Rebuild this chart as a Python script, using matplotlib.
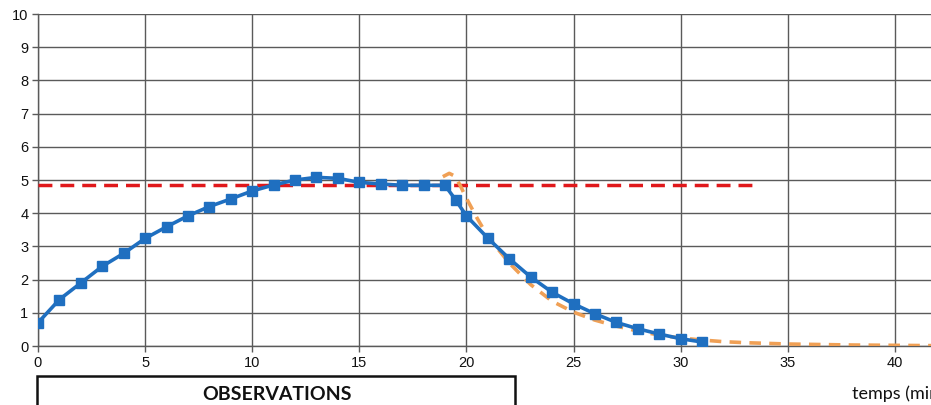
import matplotlib
matplotlib.use("Agg")
import matplotlib.pyplot as plt
from matplotlib.patches import Rectangle

# Measured concentration (blue), plateau level (red), model decay (orange)
t_obs = [0, 1, 2, 3, 4, 5, 6, 7, 8, 9, 10, 11, 12, 13, 14, 15, 16, 17, 18, 19,
         19.5, 20, 21, 22, 23, 24, 25, 26, 27, 28, 29, 30, 31]
c_obs = [0.70, 1.40, 1.90, 2.40, 2.79, 3.24, 3.59, 3.92, 4.20, 4.43, 4.67, 4.85,
         5.00, 5.08, 5.05, 4.93, 4.88, 4.84, 4.84, 4.84,
         4.40, 3.92, 3.25, 2.63, 2.08, 1.62, 1.27, 0.97, 0.71, 0.52, 0.36, 0.22, 0.12]

plateau_t = [0, 33.6]
plateau_c = [4.85, 4.85]

t_model = [18.9, 19.2, 19.45, 19.7, 20.0, 20.5, 21, 22, 23, 24, 25, 26, 27, 28,
           29, 30, 31, 32, 33, 35, 38, 42]
c_model = [5.10, 5.20, 5.12, 4.85, 4.45, 3.85, 3.30, 2.50, 1.85, 1.35, 1.02, 0.78,
           0.60, 0.45, 0.33, 0.24, 0.18, 0.13, 0.10, 0.06, 0.03, 0.01]

x_ticks = [0, 5, 10, 15, 20, 25, 30, 35, 40]
y_ticks = [0, 1, 2, 3, 4, 5, 6, 7, 8, 9, 10]

W, H = 931, 405
fig = plt.figure(figsize=(W / 100, H / 100), dpi=100)
fig.patch.set_facecolor("white")

x_left, x_unit = 38, 21.42
y_top, y_bottom = 14, 346
ax = fig.add_axes([x_left / W, (H - y_bottom) / H, 1 - x_left / W,
                   (y_bottom - y_top) / H])
ax.set_xlim(0, (W - x_left) / x_unit)
ax.set_ylim(0, 10)

grid_col = "#5a5a5a"
ax.set_xticks(x_ticks)
ax.set_yticks(y_ticks)
ax.grid(True, color=grid_col, linewidth=1.0)
ax.set_axisbelow(True)
for side in ["top", "right"]:
    ax.spines[side].set_visible(False)
for side in ["left", "bottom"]:
    ax.spines[side].set_color(grid_col)
    ax.spines[side].set_linewidth(1.0)
ax.tick_params(axis="both", colors=grid_col, length=4, width=1.0,
               labelsize=10.5, labelcolor="#111111", pad=3)
for lab in ax.get_xticklabels() + ax.get_yticklabels():
    lab.set_family("Liberation Sans")

ax.plot(plateau_t, plateau_c, color="#e0181b", linewidth=2.5,
        dashes=(4.0, 2.3), zorder=3)
ax.plot(t_model, c_model, color="#f0a055", linewidth=2.6,
        dashes=(3.2, 2.3), zorder=4)
ax.plot(t_obs, c_obs, color="#1f6fc0", linewidth=2.6, marker="s",
        markersize=6.5, zorder=5)

# Observations box below the chart
fig.patches.append(Rectangle((37 / W, -0.05), (515 - 37) / W, (H - 376) / H + 0.05,
                             transform=fig.transFigure, fill=False,
                             edgecolor="#111111", linewidth=1.8))
fig.text(277 / W, (H - 394) / H, "OBSERVATIONS", ha="center", va="center",
         fontsize=14, fontweight="bold", family="Lato", color="#111111")
fig.text(852 / W, (H - 394) / H, "temps (min)", ha="left", va="center",
         fontsize=13, family="Lato", color="#111111")

fig.savefig("out.png", dpi=100)
